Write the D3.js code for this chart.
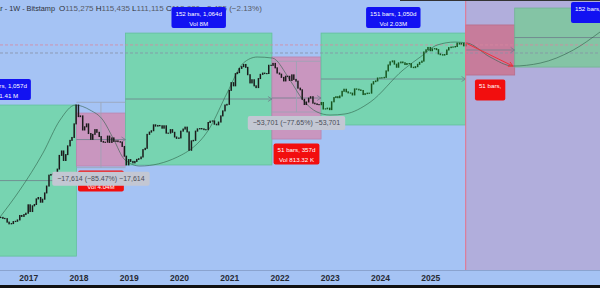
<!DOCTYPE html>
<html><head><meta charset="utf-8">
<script src="https://cdn.jsdelivr.net/npm/d3@7"></script>
<style>html,body{margin:0;padding:0;background:#a5c3f4;overflow:hidden}svg{display:block}</style>
</head><body><svg id="c" width="600" height="288"></svg>
<script>
// ---------- DATA ----------
const closeStart = "2016-06-15"; // semi-monthly closes (1st / 15th)
const closeValues = [
 690,670,665,600,570,575,610,615,640,730,710,750,780,
 1000,820,970,1010,1190,1240,1080,1180,1420,1740,2400,2450,2500,1950,2870,4300,4900,3700,4400,5700,6700,7300,10900,19000,
 13500,13800,9100,10000,10900,8200,6900,8000,9200,8500,7500,6500,6350,6350,7600,6300,7200,6500,6600,6450,6350,5600,4200,3250,
 3800,3600,3450,3600,3820,3900,4100,5100,5300,8000,8550,8900,10600,10200,10400,10300,9600,10300,8300,8300,9200,8500,7400,7100,
 7200,8800,9350,9900,8600,5000,6600,6700,8800,9400,9500,9400,9200,9200,11350,11800,11900,10800,10600,11500,13800,16000,19000,19400,
 29300,36800,33500,48000,49500,56000,59000,63000,57800,46500,36500,40100,33500,31800,41500,47000,48800,48100,48200,61500,61300,65000,57000,48900,
 47300,43000,38700,44500,44400,39300,46300,40500,38500,31300,29800,22500,19300,20800,23300,24300,20100,19700,19300,19200,20500,16900,17000,17350,
 16600,20900,23700,24300,23600,24800,28500,30300,28100,27200,27000,25600,30600,30300,29700,29200,25900,26600,27000,27000,35400,37900,38700,42200,
 42300,42500,43000,52000,62000,68000,70000,63500,58000,66000,67700,66200,62800,64700,64600,58000,57300,59000,63300,67000,69500,91000,97000,104000,
 94400,99700,100500,97500,86000,84000,83000,84500,96500,103500,105000,105500,107000,118000,115000,117500,109000,115500
];
const colorSwitchDate = "2022-11-01";
const yearTicks = [2017,2018,2019,2020,2021,2022,2023,2024,2025];

const rangeKinds  = ["long","short","long","short","long","shortF","longF"];
const rangeStarts = ["2015-01-25","2017-12-17","2018-12-09","2021-11-07","2022-10-30","2025-09-14","2026-09-06"];
const rangeEnds   = ["2017-12-17","2018-12-09","2021-11-07","2022-10-30","2025-09-14","2026-09-06","2029-08-05"];
const rangeHighs  = [19000,15000,159000,78500,159000,202000,333000];
const rangeLows   = [220,3140,3240,6970,10550,46100,58300];
const rangeLabels = [
 ["151 bars, 1,057d","Vol 1.41 M"],
 ["51 bars, 357d","Vol 4.04M"],
 ["152 bars, 1,064d","Vol 8M"],
 ["51 bars, 357d","Vol 813.32 K"],
 ["151 bars, 1,050d","Vol 2.03M"],
 ["51 bars,"],
 ["152 bars,"]
];

const priceRangeOn     = [1,3];
const priceRangeFrom   = [20609,69158];
const priceRangeTo     = [2995,15457];
const priceRangeLabels = ["\u221217,614 (\u221285.47%) \u221217,614","\u221253,701 (\u221277.65%) \u221253,701"];

const cycleDates = ["2016-06-10","2016-11-01","2017-04-18","2017-08-20","2017-12-09","2018-03-26","2018-06-28","2018-09-09","2018-12-06","2019-03-24",
 "2019-12-20","2020-08-16","2020-12-16","2021-04-13","2021-07-23","2021-11-10","2022-03-18","2022-06-21","2022-09-30","2023-01-03","2023-04-22",
 "2023-10-22","2024-06-17","2024-10-20","2025-02-20","2025-06-30","2025-09-26","2026-03-11","2026-08-24","2027-03-11","2027-11-06","2028-05-18"];
const cyclePrices = [697,1545,4600,12200,19000,16400,12200,7180,3750,3140,
 4090,9930,27100,65600,78400,76100,39700,22000,15500,14150,14600,
 20700,53500,78400,111700,122000,118600,78400,60100,65600,96400,164000];

const lastPrice = 112000;
const otherPriceLine = 88300;
const todayDate = "2025-09-15";
const arrowDates = ["2025-09-15","2026-08-24"];
const arrowPrices = [118600,60100];

const headerTitle = "Bitcoin / U.S. Dollar - 1W - Bitstamp";
const ohlcKeys = ["O","H","L","C"];
const ohlcVals = ["115,275","115,435","111,115","112,820"];
const changeText = "\u22122,455 (\u22122.13%)";

// ---------- CHART ----------
const W = 600, H = 288, plotH = 270;
const FONT = "'Liberation Sans', Arial, sans-serif";
const parse = d3.utcParse("%Y-%m-%d");
const svg = d3.select("#c");

const x = d3.scaleUtc().domain([parse("2016-06-10"), parse("2028-05-18")]).range([0, W]);
const y = d3.scaleLog().domain([146, 422000]).range([plotH, 0]);

svg.append("rect").attr("width",W).attr("height",H).attr("fill","#a5c3f4");
svg.append("clipPath").attr("id","plot").append("rect").attr("width",W).attr("height",plotH);
const plot = svg.append("g").attr("clip-path","url(#plot)");

// future region
const xToday = x(parse(todayDate));
plot.append("rect").attr("x",xToday).attr("y",0).attr("width",W-xToday).attr("height",plotH).attr("fill","#b1aedc");

const fills = {long:"#77d4b1", short:"#c996bf", shortF:"#c77c9b", longF:"#84c4a5"};
const strokes = {long:"#62c09c", short:"#b985ae", shortF:"#b86d8b", longF:"#73b394"};
const ranges = rangeKinds.map((k,i)=>({
  kind:k, x0:x(parse(rangeStarts[i])), x1:x(parse(rangeEnds[i])),
  y0:y(rangeHighs[i]), y1:y(rangeLows[i]), label:rangeLabels[i]
}));
plot.selectAll("rect.rng").data(ranges).join("rect").attr("class","rng")
  .attr("x",d=>d.x0).attr("y",d=>d.y0).attr("width",d=>d.x1-d.x0).attr("height",d=>d.y1-d.y0)
  .attr("fill",d=>fills[d.kind]).attr("stroke",d=>strokes[d.kind]).attr("stroke-width",0.8);

// dashed price lines
plot.append("line").attr("x1",0).attr("x2",W).attr("y1",y(lastPrice)).attr("y2",y(lastPrice))
  .attr("stroke","#d8879f").attr("stroke-width",0.8).attr("stroke-dasharray","3,2");
plot.append("line").attr("x1",0).attr("x2",W).attr("y1",y(otherPriceLine)).attr("y2",y(otherPriceLine))
  .attr("stroke","#8790a6").attr("stroke-width",0.8).attr("stroke-dasharray","3,2");

// midline arrows
const midCol = "#6f7f8c";
ranges.forEach(d=>{
  const ym = (d.y0+d.y1)/2;
  plot.append("line").attr("x1",d.x0).attr("x2",d.x1).attr("y1",ym).attr("y2",ym).attr("stroke",midCol).attr("stroke-width",0.8);
  plot.append("path").attr("d",`M${d.x1-4},${ym-2.5}L${d.x1},${ym}L${d.x1-4},${ym+2.5}`).attr("fill","none").attr("stroke",midCol).attr("stroke-width",0.8);
});

// price range tools
priceRangeOn.forEach((ri,i)=>{
  const d = ranges[ri];
  const ya = y(priceRangeFrom[i]), yb = y(priceRangeTo[i]), xm = (d.x0+d.x1)/2;
  [ya,yb].forEach(yy=>plot.append("line").attr("x1",d.x0).attr("x2",d.x1).attr("y1",yy).attr("y2",yy).attr("stroke","#9aa3b4").attr("stroke-width",0.8));
  plot.append("line").attr("x1",xm).attr("x2",xm).attr("y1",ya).attr("y2",yb).attr("stroke","#9aa3b4").attr("stroke-width",0.8);
});

// cycle curve
const cyc = cycleDates.map((dd,i)=>[x(parse(dd)), y(cyclePrices[i])]);
plot.append("path").attr("d", d3.line().curve(d3.curveMonotoneX)(cyc))
  .attr("fill","none").attr("stroke","#2f5e48").attr("stroke-width",0.7).attr("opacity",0.85);

// candles
const start = parse(closeStart);
const sw = parse(colorSwitchDate);
const candles = closeValues.map((v,i)=>{
  const m = start.getUTCMonth() + Math.floor((i+1)/2);
  const dt = new Date(Date.UTC(start.getUTCFullYear(), m, i%2===0 ? 15 : 1));
  return {date:dt, open: i===0 ? v : closeValues[i-1], close:v};
});
const cw = 1.5;
plot.selectAll("rect.cdl").data(candles).join("rect").attr("class","cdl")
  .attr("x",d=>x(d.date)-cw/2).attr("width",cw)
  .attr("y",d=>y(Math.max(d.open,d.close))-0.5)
  .attr("height",d=>Math.max(1.2, Math.abs(y(d.open)-y(d.close))+1))
  .attr("fill",d=>d.date>=sw ? "#17561f" : "#1b1b1b");

// red projection arrow
const ax0 = x(parse(arrowDates[0])), ay0 = y(arrowPrices[0]), ax1 = x(parse(arrowDates[1])), ay1 = y(arrowPrices[1]);
plot.append("line").attr("x1",ax0).attr("y1",ay0).attr("x2",ax1).attr("y2",ay1).attr("stroke","#f0303a").attr("stroke-width",1);
const ang = Math.atan2(ay1-ay0, ax1-ax0);
const ah = (a)=>[ax1-5*Math.cos(ang+a), ay1-5*Math.sin(ang+a)];
plot.append("path").attr("d",`M${ah(0.5)}L${ax1},${ay1}L${ah(-0.5)}`).attr("fill","none").attr("stroke","#f0303a").attr("stroke-width",1);

// today line
plot.append("line").attr("x1",xToday).attr("x2",xToday).attr("y1",0).attr("y2",plotH).attr("stroke","#e5708a").attr("stroke-width",1);

// header (below label boxes, as in the reference)
const hd = svg.append("g").attr("font-family",FONT).attr("font-size",8);
hd.append("text").attr("x",55).attr("y",10.5).attr("text-anchor","end").attr("font-size",7.3).attr("fill","#2e323b").text(headerTitle);
const ht = hd.append("text").attr("x",59).attr("y",10.5);
ohlcKeys.forEach((k,i)=>{
  ht.append("tspan").attr("fill","#2a2d35").text(k);
  ht.append("tspan").attr("fill","#555a66").text(ohlcVals[i] + " ");
});
ht.append("tspan").attr("fill","#555a66").text(changeText);

// labels
const labG = svg.append("g").attr("clip-path","url(#plot)");
function box(cx, top, lines, fill, tfill, fs, padX, h, lineGap){
  const g = labG.append("g");
  const r = g.append("rect");
  const ts = lines.map((t,i)=>g.append("text").attr("x",cx).attr("y",top + fs + 2.3 + i*lineGap)
    .attr("text-anchor","middle").attr("font-family",FONT).attr("font-size",fs).attr("fill",tfill).text(t));
  const w = d3.max(ts, t=>t.node().getComputedTextLength()) + 2*padX;
  r.attr("x",cx-w/2).attr("y",top).attr("width",w).attr("height",h).attr("rx",2).attr("fill",fill);
}
ranges.forEach(d=>{
  const cx = (d.x0+d.x1)/2;
  if (d.kind.startsWith("long")) {
    const top = Math.max(2, d.y0 - 26);
    box(cx, top, d.label, "#1212f2", "#ffffff", 6.2, 4, 21, 10);
  } else {
    box(cx, d.y1 + 4.5, d.label, "#f20e0e", "#ffffff", 6.2, 4, 21, 10);
  }
});
priceRangeOn.forEach((ri,i)=>{
  const d = ranges[ri];
  box((d.x0+d.x1)/2, y(priceRangeTo[i]) + 4, [priceRangeLabels[i]], "#c3c7d3", "#4a4d57", 7, 5, 14, 10);
});

// axis
svg.append("line").attr("x1",0).attr("x2",W).attr("y1",plotH+0.5).attr("y2",plotH+0.5).attr("stroke","#8aa3cf").attr("stroke-width",1);
const ax = svg.append("g").attr("transform",`translate(0,${plotH})`)
  .call(d3.axisBottom(x).tickValues(yearTicks.map(yr=>new Date(Date.UTC(yr,0,1)))).tickFormat(d3.utcFormat("%Y")).tickSize(0).tickPadding(5));
ax.select(".domain").remove();
ax.selectAll("text").attr("font-family",FONT).attr("font-size",8.5).attr("font-weight","bold").attr("fill","#262a33");
svg.append("rect").attr("x",0).attr("y",285).attr("width",W).attr("height",3).attr("fill","#111");
svg.append("rect").attr("x",400).attr("y",0).attr("width",200).attr("height",1).attr("fill","#333");
</script></body></html>
